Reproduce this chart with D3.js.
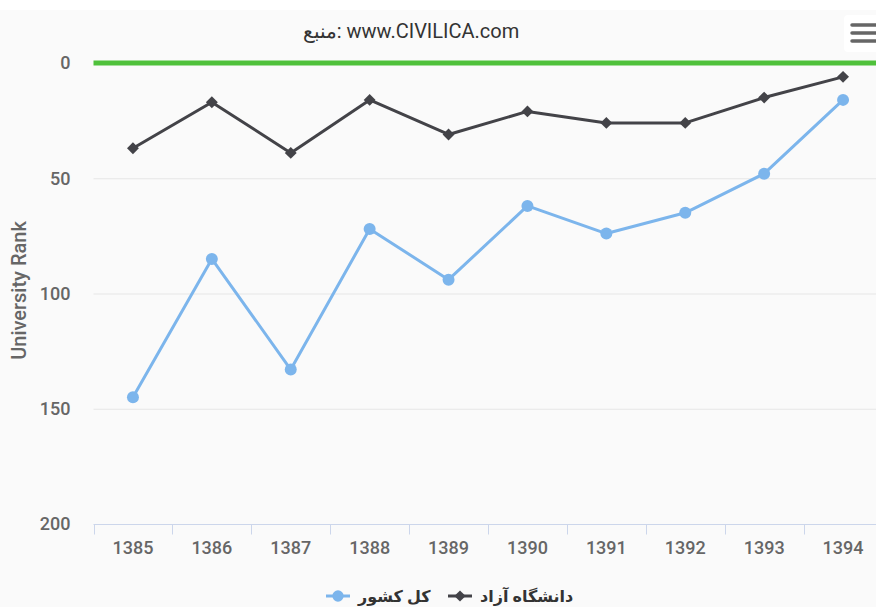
<!DOCTYPE html>
<html>
<head>
<meta charset="utf-8">
<script src="https://cdn.jsdelivr.net/npm/d3@7"></script>
<style>
  body { margin: 0; background: #ffffff; }
  svg { display: block; font-family: Roboto, "Noto Sans", sans-serif; }
</style>
</head>
<body>
<div id="chart"></div>
<script>
// Datos del gráfico
const years = ["1385", "1386", "1387", "1388", "1389", "1390", "1391", "1392", "1393", "1394"];
const azadRank = [37, 17, 39, 16, 31, 21, 26, 26, 15, 6];       // دانشگاه آزاد
const countryRank = [145, 85, 133, 72, 94, 62, 74, 65, 48, 16]; // کل کشور
const yTicks = [0, 50, 100, 150, 200];

const width = 876;
const height = 607;
const marginTop = 63;
const marginBottom = 83;
const marginLeft = 93.5;
const plotRight = 882.5; // el gráfico se corta a la derecha

const svg = d3.select("#chart").append("svg")
    .attr("width", width)
    .attr("height", height)
    .attr("viewBox", [0, 0, width, height]);

// Fondo
svg.append("rect")
    .attr("x", 0).attr("y", 10)
    .attr("width", width).attr("height", height - 10)
    .attr("fill", "#fafafa");

const x = d3.scaleBand()
    .domain(years)
    .range([marginLeft, plotRight]);

const y = d3.scaleLinear()
    .domain([0, 200])
    .range([marginTop, height - marginBottom]);

// Líneas de la cuadrícula
svg.append("g")
    .selectAll("line")
    .data(yTicks.slice(1, -1))
    .join("line")
    .attr("x1", marginLeft)
    .attr("x2", plotRight)
    .attr("y1", d => y(d) + 0.5)
    .attr("y2", d => y(d) + 0.5)
    .attr("stroke", "#e6e6e6");

// Eje vertical
svg.append("g")
    .attr("transform", `translate(${marginLeft - 23},0)`)
    .call(d3.axisLeft(y).tickValues(yTicks).tickSize(0).tickPadding(0))
    .call(g => g.select(".domain").remove())
    .call(g => g.selectAll("text")
        .attr("fill", "#666")
        .attr("font-size", 18)
        .attr("font-weight", 500)
        .attr("font-family", "Roboto, sans-serif"));

svg.append("text")
    .attr("transform", `translate(26,${(y(0) + y(200)) / 2 - 3}) rotate(-90)`)
    .attr("text-anchor", "middle")
    .attr("fill", "#666")
    .attr("font-size", 20)
    .attr("font-weight", 500)
    .text("University Rank");

// Eje horizontal
const xAxis = svg.append("g")
    .attr("transform", `translate(0,${y(200) + 0.5})`);
xAxis.append("line")
    .attr("x1", marginLeft).attr("x2", plotRight)
    .attr("stroke", "#ccd6eb");
xAxis.selectAll(".tick-line")
    .data(years)
    .join("line")
    .attr("x1", d => Math.round(x(d)) + 0.5)
    .attr("x2", d => Math.round(x(d)) + 0.5)
    .attr("y1", 0).attr("y2", 10)
    .attr("stroke", "#ccd6eb");
xAxis.selectAll("text")
    .data(years)
    .join("text")
    .attr("x", d => x(d) + x.bandwidth() / 2)
    .attr("y", 29)
    .attr("text-anchor", "middle")
    .attr("fill", "#666")
    .attr("font-size", 18)
    .attr("font-weight", 500)
    .text(d => d);

// Línea de referencia verde en 0
svg.append("line")
    .attr("x1", marginLeft).attr("x2", plotRight)
    .attr("y1", y(0)).attr("y2", y(0))
    .attr("stroke", "#4fc13b")
    .attr("stroke-width", 5);

const cx = d => x(d) + x.bandwidth() / 2;
const line = d3.line().x(d => cx(d[0])).y(d => y(d[1]));

// Serie: کل کشور
const countryData = years.map((d, i) => [d, countryRank[i]]);
svg.append("path")
    .datum(countryData)
    .attr("fill", "none")
    .attr("stroke", "#7cb5ec")
    .attr("stroke-width", 3)
    .attr("stroke-linejoin", "round")
    .attr("d", line);
svg.append("g")
    .selectAll("circle")
    .data(countryData)
    .join("circle")
    .attr("cx", d => cx(d[0]))
    .attr("cy", d => y(d[1]))
    .attr("r", 6)
    .attr("fill", "#7cb5ec");

// Serie: دانشگاه آزاد
const azadData = years.map((d, i) => [d, azadRank[i]]);
svg.append("path")
    .datum(azadData)
    .attr("fill", "none")
    .attr("stroke", "#434348")
    .attr("stroke-width", 3)
    .attr("stroke-linejoin", "round")
    .attr("d", line);
const diamond = d3.symbol().type(d3.symbolDiamond2).size(90);
svg.append("g")
    .selectAll("path")
    .data(azadData)
    .join("path")
    .attr("transform", d => `translate(${cx(d[0])},${y(d[1])})`)
    .attr("d", diamond)
    .attr("fill", "#434348");

// Título / fuente
svg.append("text")
    .attr("x", 411)
    .attr("y", 38)
    .attr("text-anchor", "middle")
    .attr("fill", "#333")
    .attr("font-size", 20)
    .text("منبع: www.CIVILICA.com");

// Botón de menú
const menu = svg.append("g").attr("transform", "translate(844,15)");
menu.append("rect")
    .attr("x", 0).attr("y", 0)
    .attr("width", 40).attr("height", 37)
    .attr("rx", 4)
    .attr("fill", "#ffffff");
menu.selectAll("line")
    .data([0, 1, 2])
    .join("line")
    .attr("x1", 8).attr("x2", 32)
    .attr("y1", d => 10 + d * 8).attr("y2", d => 10 + d * 8)
    .attr("stroke", "#666")
    .attr("stroke-width", 3.5)
    .attr("stroke-linecap", "round");

// Leyenda
const legendItems = [
    { name: "دانشگاه آزاد", color: "#434348", symbol: "diamond", x: 448 },
    { name: "کل کشور", color: "#7cb5ec", symbol: "circle", x: 326 }
];
const legend = svg.append("g")
    .selectAll("g")
    .data(legendItems)
    .join("g")
    .attr("transform", d => `translate(${d.x},596)`);
legend.append("line")
    .attr("x1", 0).attr("x2", 24)
    .attr("stroke", d => d.color)
    .attr("stroke-width", 3);
legend.append("path")
    .attr("transform", "translate(12,0)")
    .attr("d", d => d.symbol === "circle"
        ? d3.symbol().type(d3.symbolCircle).size(100)()
        : d3.symbol().type(d3.symbolDiamond2).size(80)())
    .attr("fill", d => d.color);
legend.append("text")
    .attr("x", 32)
    .attr("y", 6)
    .attr("fill", "#333")
    .attr("font-size", 16)
    .attr("font-weight", "bold")
    .attr("font-family", "'Noto Sans', 'DejaVu Sans', sans-serif")
    .text(d => d.name);
</script>
</body>
</html>
